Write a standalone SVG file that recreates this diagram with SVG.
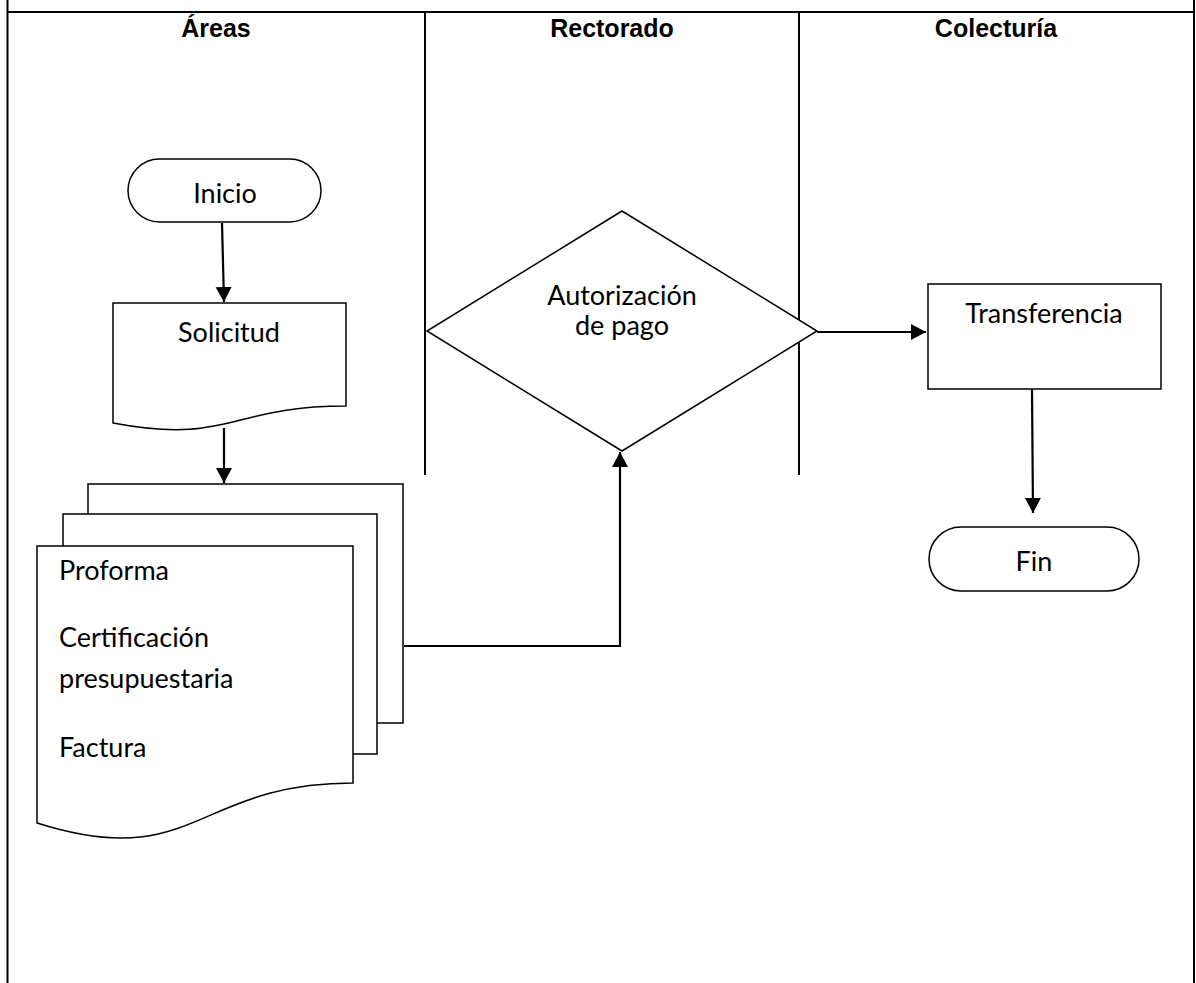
<svg xmlns="http://www.w3.org/2000/svg" width="1196" height="983" viewBox="0 0 1196 983">
<style>
.frame{fill:none;stroke:#000;stroke-width:2}
.shape{fill:#fff;stroke:#000;stroke-width:1.5}
.conn{fill:none;stroke:#000;stroke-width:2.2}
.hdr{font-family:"Liberation Sans",Arial,sans-serif;font-weight:bold;font-size:25px;text-anchor:middle;fill:#000}
.lbl{font-family:Lato,"Liberation Sans",sans-serif;font-size:27px;fill:#000}
.c{text-anchor:middle}
</style>
<defs>
<marker id="ah" markerWidth="18" markerHeight="18" viewBox="0 0 18 18" refX="15" refY="9" orient="auto" markerUnits="userSpaceOnUse">
<path d="M0,1 L15,9 L0,17 Z" fill="#000"/>
</marker>
</defs>
<rect width="1196" height="983" fill="#fff"/>
<g id="table">
<line class="frame" x1="7.5" y1="0" x2="7.5" y2="983"/>
<line class="frame" x1="1194" y1="0" x2="1194" y2="983"/>
<line class="frame" x1="7.5" y1="12" x2="1194" y2="12"/>
<line class="frame" x1="425" y1="12" x2="425" y2="475"/>
<line class="frame" x1="799" y1="12" x2="799" y2="475"/>
<text class="hdr" x="216" y="37">Áreas</text>
<text class="hdr" x="612" y="37">Rectorado</text>
<text class="hdr" x="996" y="37">Colecturía</text>
</g>
<g id="connectors">
<line class="conn" x1="222" y1="223" x2="224" y2="302" marker-end="url(#ah)"/>
<line class="conn" x1="224" y1="428" x2="224" y2="483" marker-end="url(#ah)"/>
<polyline class="conn" points="404,646 620,646 620,452" marker-end="url(#ah)"/>
<line class="conn" x1="817" y1="332" x2="926" y2="332" marker-end="url(#ah)"/>
<line class="conn" x1="1032" y1="389" x2="1033" y2="513" marker-end="url(#ah)"/>
</g>
<g id="inicio">
<rect class="shape" x="128" y="159" width="193" height="63" rx="31.5"/>
<text class="lbl c" x="225" y="203">Inicio</text>
</g>
<g id="solicitud">
<path class="shape" d="M113,303 H346 V406 C229.5,406 229.5,445 113,423 Z"/>
<text class="lbl c" x="229" y="342">Solicitud</text>
</g>
<g id="documentos">
<path class="shape" d="M88,514 V484 H403 V723 H377"/>
<path class="shape" d="M63,546 V514 H377 V754 H353"/>
<path class="shape" d="M37,546 H353 V783 C195,783 195,873 37,823 Z"/>
<text class="lbl" x="59" y="580">Proforma</text>
<text class="lbl" x="59" y="647">Certificación</text>
<text class="lbl" x="59" y="688">presupuestaria</text>
<text class="lbl" x="59" y="757">Factura</text>
</g>
<g id="autorizacion">
<polygon class="shape" points="622,211 817,331 622,451 427,331"/>
<text class="lbl c" x="622" y="305">Autorización</text>
<text class="lbl c" x="622" y="335">de pago</text>
</g>
<g id="transferencia">
<rect class="shape" x="928" y="284" width="233" height="105"/>
<text class="lbl c" x="1044" y="323">Transferencia</text>
</g>
<g id="fin">
<rect class="shape" x="929" y="527" width="210" height="64" rx="32"/>
<text class="lbl c" x="1034" y="571">Fin</text>
</g>
</svg>
